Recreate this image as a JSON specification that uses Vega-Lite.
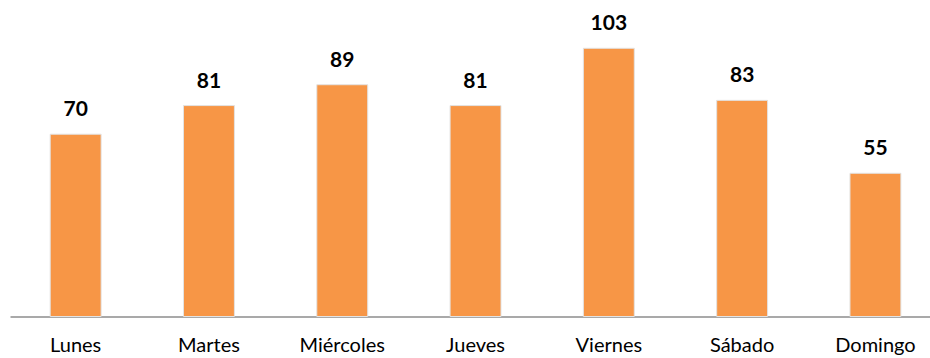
{
  "$schema": "https://vega.github.io/schema/vega-lite/v6.json",
  "autosize": {"type": "none"},
  "padding": {"left": 10, "top": 4, "right": 0, "bottom": 41},
  "width": 920,
  "height": 312.5,
  "background": "white",
  "config": {"view": {"stroke": null}},
  "data": {"values": [
    {"dia": "Lunes", "valor": 70},
    {"dia": "Martes", "valor": 81},
    {"dia": "Miércoles", "valor": 89},
    {"dia": "Jueves", "valor": 81},
    {"dia": "Viernes", "valor": 103},
    {"dia": "Sábado", "valor": 83},
    {"dia": "Domingo", "valor": 55}
  ]},
  "encoding": {
    "x": {"field": "dia", "type": "nominal", "sort": null,
      "scale": {"paddingInner": 0.618, "paddingOuter": 0.26, "align": 0.58},
      "axis": {"title": null, "labelAngle": 0, "ticks": false, "domainColor": "#8c8c8c", "domainWidth": 1.5,
        "labelFont": "Lato", "labelFontSize": 20, "labelColor": "#000000", "labelPadding": 19}},
    "y": {"field": "valor", "type": "quantitative", "scale": {"domain": [0, 120]}, "axis": null}
  },
  "layer": [
    {"mark": {"type": "bar", "color": "#F79646", "stroke": "#e3e3e3", "strokeWidth": 1}},
    {"mark": {"type": "text", "font": "Lato", "fontWeight": "bold", "fontSize": 21, "baseline": "alphabetic", "dy": -18, "color": "#000000"},
     "encoding": {"text": {"field": "valor", "type": "quantitative"}}}
  ]
}
